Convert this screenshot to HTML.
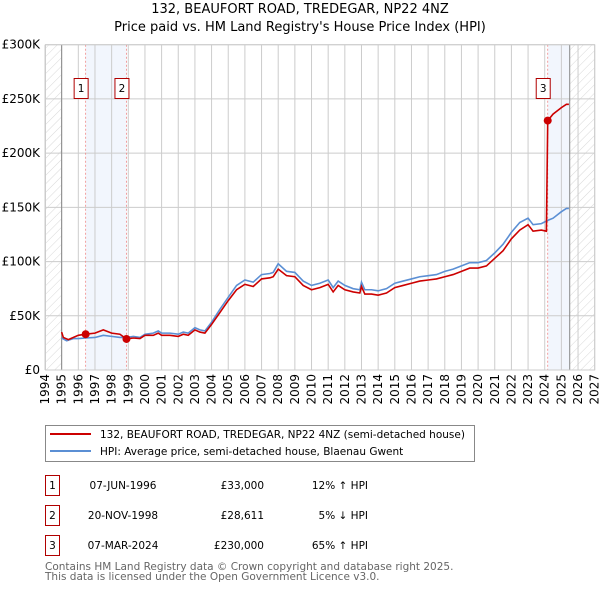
<!DOCTYPE html>
<html><head><meta charset="utf-8"><style>
body{margin:0;background:#fff;font-family:"DejaVu Sans","Liberation Sans",sans-serif;}
svg text{font-family:"DejaVu Sans","Liberation Sans",sans-serif;}
</style></head><body>
<svg id="chart" width="600" height="590" viewBox="0 0 600 590" xmlns="http://www.w3.org/2000/svg">
<defs>
<pattern id="hatch" patternUnits="userSpaceOnUse" width="6" height="6" patternTransform="rotate(45)">
<line x1="0" y1="0" x2="0" y2="6" stroke="#d8d8d8" stroke-width="1"/>
</pattern>
</defs>
<text x="300" y="13" text-anchor="middle" font-size="13">132, BEAUFORT ROAD, TREDEGAR, NP22 4NZ</text>
<text x="300" y="31" text-anchor="middle" font-size="13">Price paid vs. HM Land Registry's House Price Index (HPI)</text>
<g id="plot"></g>
<g>
<rect x="45.5" y="425.5" width="429" height="36" fill="#fff" stroke="#888"/>
<line x1="50" y1="434" x2="91" y2="434" stroke="#cc0000" stroke-width="2"/>
<text x="100" y="438" font-size="10.5">132, BEAUFORT ROAD, TREDEGAR, NP22 4NZ (semi-detached house)</text>
<line x1="50" y1="451" x2="91" y2="451" stroke="#5b8fd4" stroke-width="2"/>
<text x="100" y="455" font-size="10.5">HPI: Average price, semi-detached house, Blaenau Gwent</text>
</g>
<g id="table" font-size="10.5"></g>
<text x="45" y="570" font-size="10.5" fill="#666">Contains HM Land Registry data © Crown copyright and database right 2025.</text>
<text x="45" y="580" font-size="10.5" fill="#666">This data is licensed under the Open Government Licence v3.0.</text>
</svg>
<script>
const hpiDates=[1995,1995.3,1995.7,1996,1996.44,1997,1997.5,1998,1998.5,1998.89,1999.3,1999.7,2000,2000.5,2000.8,2001,2001.5,2002,2002.3,2002.6,2003,2003.3,2003.6,2004,2004.5,2005,2005.5,2006,2006.5,2007,2007.5,2007.7,2008,2008.5,2009,2009.5,2010,2010.5,2011,2011.3,2011.6,2012,2012.5,2012.9,2013,2013.2,2013.6,2014,2014.5,2015,2015.5,2016,2016.5,2017,2017.5,2018,2018.5,2019,2019.5,2020,2020.5,2021,2021.5,2022,2022.5,2023,2023.3,2023.8,2024.18,2024.5,2025,2025.3,2025.45];
const hpiValues=[29.5,27,29,29,29.5,30,32,31,30,30,31,30,33,34,36,34,34,33,35,34,39,37,36,44,56,67,78,83,81,88,89,90,98,91,90,82,78,80,83,76,82,78,75,74,81,74,74,73,75,80,82,84,86,87,88,91,93,96,99,99,101,108,116,127,136,140,134,135,138,140,146,149,149];
const redDates=[1995,1995.1,1995.4,1996,1996.44,1997,1997.5,1998,1998.5,1998.89,1999.3,1999.7,2000,2000.5,2000.8,2001,2001.5,2002,2002.3,2002.6,2003,2003.3,2003.6,2004,2004.5,2005,2005.5,2006,2006.5,2007,2007.5,2007.7,2008,2008.5,2009,2009.5,2010,2010.5,2011,2011.3,2011.6,2012,2012.5,2012.9,2013,2013.2,2013.6,2014,2014.5,2015,2015.5,2016,2016.5,2017,2017.5,2018,2018.5,2019,2019.5,2020,2020.5,2021,2021.5,2022,2022.5,2023,2023.3,2023.8,2024.1,2024.18,2024.5,2025,2025.3,2025.45];
const redValues=[35,30,28,32,33,34,37,34,33,28.6,29.5,29,32,32,34,32,32,31,33,32,37,35,34,42,53,64,74,79,77,84,85,86,93,87,86,78,74,76,79,72,78,74,72,71,77,70,70,69,71,76,78,80,82,83,84,86,88,91,94,94,96,103,110,121,129,134,128,129,128,230,236,242,245,245];
const saleDates=[1996.44,1998.89,2024.18];
const salePrices=[33,28.611,230];
const saleLabels=["1","2","3"];
const yTicks=[0,50,100,150,200,250,300];
const yTickLabels=["£0","£50K","£100K","£150K","£200K","£250K","£300K"];
const xTicks=[1994,1995,1996,1997,1998,1999,2000,2001,2002,2003,2004,2005,2006,2007,2008,2009,2010,2011,2012,2013,2014,2015,2016,2017,2018,2019,2020,2021,2022,2023,2024,2025,2026,2027];
const tableDates=["07-JUN-1996","20-NOV-1998","07-MAR-2024"];
const tablePrices=["£33,000","£28,611","£230,000"];
const tablePcts=["12% ↑ HPI","5% ↓ HPI","65% ↑ HPI"];

const X0=45,X1=594.7,Y0=370,Y1=44.7;
const x=d=>X0+(d-1994)/(2027-1994)*(X1-X0);
const y=v=>Y0-v/300*(Y0-Y1);
const NS="http://www.w3.org/2000/svg";
const plot=document.getElementById('plot');
function mk(tag,attrs,parent){const e=document.createElementNS(NS,tag);for(const k in attrs)e.setAttribute(k,attrs[k]);(parent||plot).appendChild(e);return e;}
let h1=mk('rect',{x:X0,y:Y1,width:x(1995)-X0,height:Y0-Y1,fill:'url(#hatch)'});


let h2=mk('rect',{x:x(2025.5),y:Y1,width:X1-x(2025.5),height:Y0-Y1,fill:'url(#hatch)'});


let s1=mk('rect',{x:x(saleDates[0]),y:Y1,width:x(saleDates[1])-x(saleDates[0]),height:Y0-Y1,fill:'#f2f6fd'});


let s2=mk('rect',{x:x(saleDates[2]),y:Y1,width:x(2025.5)-x(saleDates[2]),height:Y0-Y1,fill:'#f2f6fd'});


xTicks.forEach((t,i)=>{
 const g=mk('line',{x1:x(t),x2:x(t),y1:Y1,y2:Y0,stroke:'#ccc','stroke-width':1});
 
 
 const tx=x(t)+4,ty=Y0+4;
 const l=mk('text',{x:tx,y:ty,'font-size':12,'text-anchor':'end',transform:`rotate(-90 ${tx} ${ty})`});
 l.textContent=t;
 
 
});
yTicks.forEach((t,i)=>{
 const g=mk('line',{x1:X0,x2:X1,y1:y(t),y2:y(t),stroke:'#ccc','stroke-width':1});
 
 
 const l=mk('text',{x:40,y:y(t)+4,'font-size':12,'text-anchor':'end'});
 l.textContent=yTickLabels[i];
 
 
});
[1995,2025.5].forEach(d=>{const v=mk('line',{x1:x(d),x2:x(d),y1:Y1,y2:Y0,stroke:'#888','stroke-width':1});
 
 });
saleDates.forEach(d=>{const v=mk('line',{x1:x(d),x2:x(d),y1:Y1,y2:Y0,stroke:'#e88','stroke-width':0.8,'stroke-dasharray':'2,2'});
 
 });
const hp=mk('polyline',{points:hpiDates.map((d,i)=>x(d)+','+y(hpiValues[i])).join(' '),fill:'none',stroke:'#5b8fd4','stroke-width':1.6});


const rp=mk('polyline',{points:redDates.map((d,i)=>x(d)+','+y(redValues[i])).join(' '),fill:'none',stroke:'#cc0000','stroke-width':1.6});


saleDates.forEach((d,i)=>{
 const c=mk('circle',{cx:x(d),cy:y(salePrices[i]),r:4,fill:'#cc0000'});
 
 
 const r=mk('rect',{x:x(d)-11.5,y:78.5,width:14,height:20,fill:'#fff',stroke:'#b00000'});
 
 
 const t=mk('text',{x:x(d)-4.5,y:92,'font-size':10.5,'text-anchor':'middle'});
 t.textContent=saleLabels[i];
 
 
});
mk('rect',{x:X0+.5,y:Y1,width:X1-X0-.5,height:Y0-Y1,fill:'none',stroke:'#ccc'});
const tb=document.getElementById('table');
saleLabels.forEach((s,i)=>{
 const yy=475+i*30;
 const r=mk('rect',{x:45.5,y:yy+.5,width:14,height:20,fill:'#fff',stroke:'#b00000'},tb);
 
 
 const a=mk('text',{x:52.5,y:yy+14,'text-anchor':'middle'},tb);a.textContent=s;
 const b=mk('text',{x:123,y:yy+14,'text-anchor':'middle'},tb);b.textContent=tableDates[i];
 
 
 const c=mk('text',{x:264,y:yy+14,'text-anchor':'end'},tb);c.textContent=tablePrices[i];
 
 
 const e=mk('text',{x:368,y:yy+14,'text-anchor':'end'},tb);e.textContent=tablePcts[i];
 
 
});
</script>
</body></html>
